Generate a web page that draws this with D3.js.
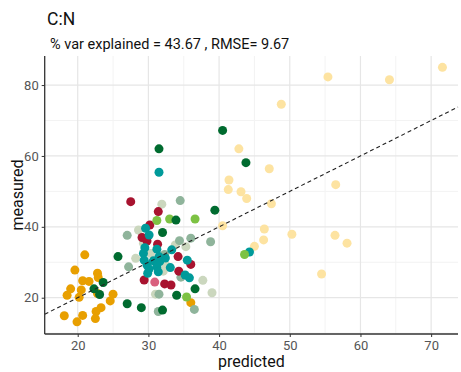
<!DOCTYPE html>
<html>
<head>
<meta charset="utf-8">
<script src="https://cdn.jsdelivr.net/npm/d3@7"></script>
<style>
  body { margin: 0; background: #fff; }
  svg { display: block; font-family: Roboto, "DejaVu Sans", sans-serif; }
</style>
</head>
<body>
<div id="chart"></div>
<script>
// measured vs predicted, one array pair per group (colour)
const paleYellowX = [71.6, 55.4, 64.1, 48.8, 42.8, 47.1, 41.4, 41.3, 43.1, 43.9, 56.5, 47.4, 40.5, 46.4, 46.3, 45.0, 50.3, 56.4, 58.1, 54.5];
const paleYellowY = [85.0, 82.3, 81.5, 74.6, 62.0, 56.4, 53.2, 50.5, 49.9, 48.0, 51.9, 46.5, 40.3, 39.4, 36.3, 34.5, 37.9, 37.6, 35.4, 26.7];

const orangeX = [21.0, 19.6, 22.8, 22.9, 20.7, 21.6, 19.0, 20.5, 18.5, 20.2, 22.8, 25.0, 24.6, 23.3, 22.6, 18.1, 20.7, 22.5, 19.9, 36.0];
const orangeY = [32.1, 27.8, 26.9, 25.7, 24.8, 24.6, 22.5, 22.2, 20.7, 20.1, 21.2, 21.0, 19.1, 17.2, 16.1, 14.9, 15.0, 14.1, 13.2, 18.6];

const paleGreyX = [31.9, 28.6, 28.2, 29.3, 30.3, 32.1, 35.3, 37.7, 39.0, 31.0, 33.8, 32.5];
const paleGreyY = [46.4, 39.1, 31.1, 35.4, 32.5, 27.5, 34.4, 24.9, 21.4, 21.0, 34.9, 29.2];

const sageX = [34.5, 27.0, 27.2, 34.4, 36.0, 38.8, 32.3, 34.6, 31.5, 31.4, 36.5];
const sageY = [47.4, 37.6, 28.7, 36.1, 36.8, 35.8, 32.2, 25.8, 21.0, 16.1, 16.7];

const crimsonX = [27.5, 31.4, 30.2, 29.1, 29.8, 31.3, 34.2, 36.0, 34.3, 29.4, 32.3, 33.2];
const crimsonY = [47.1, 44.3, 40.5, 37.0, 36.0, 35.1, 31.6, 29.4, 27.5, 25.0, 23.9, 23.6];

const pinkX = [30.9];
const pinkY = [24.4];

const tealX = [31.5, 44.3, 29.6, 30.1, 29.3, 29.5, 31.2, 33.3, 31.5, 29.4, 30.7, 31.6, 29.8, 31.2, 30.1, 33.1, 31.4, 29.9, 35.5, 35.2, 35.8, 32.4];
const tealY = [55.4, 32.9, 39.6, 37.7, 32.5, 34.1, 33.7, 33.5, 31.6, 30.6, 30.4, 30.2, 29.2, 28.7, 28.1, 28.5, 27.3, 26.9, 30.6, 26.4, 25.6, 31.2];

const limeX = [31.2, 33.0, 36.6, 43.6, 35.4];
const limeY = [41.8, 42.2, 42.2, 32.2, 20.2];

const darkGreenX = [40.5, 31.5, 43.8, 39.4, 33.9, 32.0, 25.7, 23.6, 22.3, 23.1, 27.0, 29.0, 34.0, 32.0, 36.6];
const darkGreenY = [67.2, 62.0, 58.1, 44.7, 41.9, 38.4, 31.6, 24.3, 22.5, 20.9, 18.3, 17.2, 20.7, 16.5, 22.5];

const groups = [
  { color: "#fde3a1", x: paleYellowX, y: paleYellowY },
  { color: "#e89f00", x: orangeX, y: orangeY },
  { color: "#cbd7be", x: paleGreyX, y: paleGreyY },
  { color: "#8fb49b", x: sageX, y: sageY },
  { color: "#a8132f", x: crimsonX, y: crimsonY },
  { color: "#d9607e", x: pinkX, y: pinkY },
  { color: "#009a9a", x: tealX, y: tealY },
  { color: "#7dc243", x: limeX, y: limeY },
  { color: "#006b2f", x: darkGreenX, y: darkGreenY }
];

const xTicks = [20, 30, 40, 50, 60, 70];
const yTicks = [20, 40, 60, 80];
const xMinor = [25, 35, 45, 55, 65];
const yMinor = [10, 30, 50, 70];

const width = 461, height = 372;
const plotLeft = 44.7, plotRight = 458, plotTop = 56, plotBottom = 334;

const x = d3.scaleLinear().domain([15.33, 73.8]).range([plotLeft, plotRight]);
const y = d3.scaleLinear().domain([9.76, 88.2]).range([plotBottom, plotTop]);

const svg = d3.select("#chart").append("svg")
  .attr("width", width)
  .attr("height", height);

// grid
const grid = svg.append("g");
grid.selectAll(".xminor").data(xMinor).enter().append("line")
  .attr("x1", d => x(d)).attr("x2", d => x(d))
  .attr("y1", plotTop).attr("y2", plotBottom)
  .attr("stroke", "#f3f3f3").attr("stroke-width", 1);
grid.selectAll(".yminor").data(yMinor).enter().append("line")
  .attr("y1", d => y(d)).attr("y2", d => y(d))
  .attr("x1", plotLeft).attr("x2", plotRight)
  .attr("stroke", "#f3f3f3").attr("stroke-width", 1);
grid.selectAll(".xmajor").data(xTicks).enter().append("line")
  .attr("x1", d => x(d)).attr("x2", d => x(d))
  .attr("y1", plotTop).attr("y2", plotBottom)
  .attr("stroke", "#e6e6e6").attr("stroke-width", 1.2);
grid.selectAll(".ymajor").data(yTicks).enter().append("line")
  .attr("y1", d => y(d)).attr("y2", d => y(d))
  .attr("x1", plotLeft).attr("x2", plotRight)
  .attr("stroke", "#e6e6e6").attr("stroke-width", 1.2);

// points
groups.forEach(g => {
  svg.append("g").selectAll("circle")
    .data(g.x.map((v, i) => [v, g.y[i]]))
    .enter().append("circle")
    .attr("cx", d => x(d[0]))
    .attr("cy", d => y(d[1]))
    .attr("r", 4.5)
    .attr("fill", g.color);
});

// 1:1 line
const lo = 15.33, hi = 73.8;
svg.append("line")
  .attr("x1", x(lo)).attr("y1", y(lo))
  .attr("x2", x(hi)).attr("y2", y(hi))
  .attr("stroke", "#222").attr("stroke-width", 1.1)
  .attr("stroke-dasharray", "4,3");

// axes
const xAxis = svg.append("g")
  .attr("transform", `translate(0,${plotBottom})`)
  .call(d3.axisBottom(x).tickValues(xTicks).tickSize(3).tickPadding(4));
const yAxis = svg.append("g")
  .attr("transform", `translate(${plotLeft},0)`)
  .call(d3.axisLeft(y).tickValues(yTicks).tickSize(3).tickPadding(3));

[xAxis, yAxis].forEach(a => {
  a.select(".domain").attr("stroke", "#333").attr("stroke-width", 1.3);
  a.selectAll(".tick line").attr("stroke", "#333");
  a.selectAll(".tick text")
    .attr("fill", "#555")
    .style("font-family", "Roboto, sans-serif")
    .style("font-size", "13px");
});
xAxis.select(".domain").attr("d", `M${plotLeft},0H${plotRight}`);
yAxis.select(".domain").attr("d", `M0,${plotBottom}V${plotTop}`);

// titles
svg.append("text")
  .attr("x", 47).attr("y", 25)
  .attr("font-size", 17.5)
  .attr("fill", "#111")
  .text("C:N");
svg.append("text")
  .attr("x", 50).attr("y", 49)
  .attr("font-size", 14.5)
  .attr("fill", "#111")
  .text("% var explained = 43.67 , RMSE= 9.67");

svg.append("text")
  .attr("x", (plotLeft + plotRight) / 2).attr("y", 367)
  .attr("text-anchor", "middle")
  .attr("font-size", 16)
  .attr("fill", "#111")
  .text("predicted");
svg.append("text")
  .attr("transform", `translate(23,${(plotTop + plotBottom) / 2}) rotate(-90)`)
  .attr("text-anchor", "middle")
  .attr("font-size", 16)
  .attr("fill", "#111")
  .text("measured");
</script>
</body>
</html>
